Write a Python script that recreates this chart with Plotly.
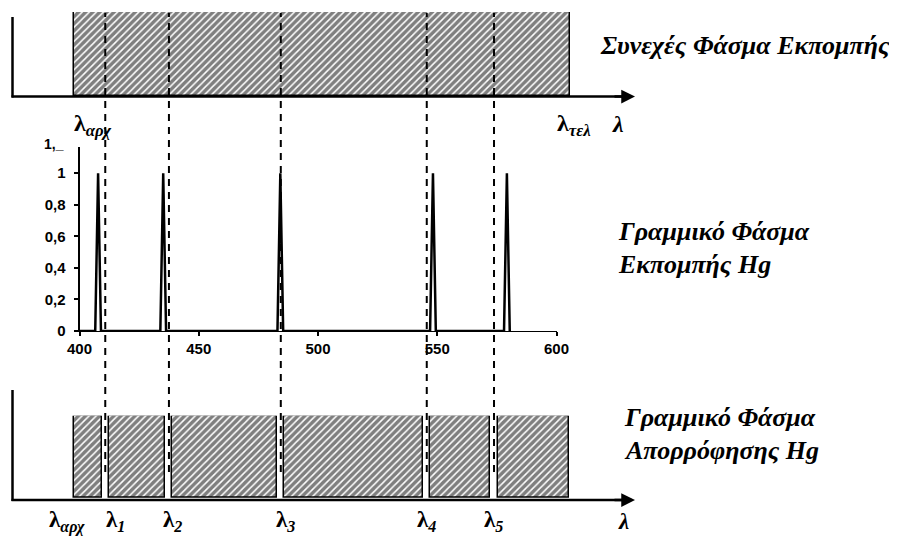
import plotly.graph_objects as go

# ---------------- data ----------------
# Line emission spectrum of Hg (middle chart)
spec_x = [400, 406.6, 407.8, 409.0, 433.9, 435.1, 436.3, 483.0, 484.2, 485.4,
          547.0, 548.2, 549.4, 578.0, 579.2, 580.4]
spec_y = [0, 0, 1, 0, 0, 1, 0, 0, 1, 0, 0, 1, 0, 0, 1, 0]

x_ticks = [400, 450, 500, 550, 600]
y_ticks = [0, 0.2, 0.4, 0.6, 0.8, 1.0]

# Continuous emission band (top schematic), nm
cont_start = 397.7
cont_end = 605.5

# Absorption lines (dashed) and the absorption-band pieces (bottom schematic), nm
abs_lines = [410.8, 437.5, 484.4, 545.6, 573.8]
band_left = [397.9, 412.4, 438.8, 485.7, 546.9, 575.3]
band_right = [409.4, 435.8, 482.8, 544.0, 572.1, 605.3]

# ---------------- layout helpers ----------------
# The page body has an 8px margin, so the figure is drawn 8px in from the corner.
OFF = 8
W, H = 897 - 2 * OFF, 544 - 2 * OFF
def px(x):
    return (x - OFF) / W
def py(y):
    return 1 - (y - OFF) / H

X400, X600 = 79.5, 556.5          # window-pixel positions of 400 and 600 nm
scale = (600 - 400) / (X600 - X400)   # nm per pixel
full_range = [400 - (X400 - OFF) * scale, 400 + (OFF + W - X400) * scale]

fig = go.Figure()

# middle chart: line spectrum
fig.add_trace(go.Scatter(x=spec_x, y=spec_y, mode="lines",
                         line=dict(color="black", width=2.5),
                         cliponaxis=False, showlegend=False, hoverinfo="skip",
                         xaxis="x", yaxis="y"))

pattern = dict(shape="/", fgcolor="black", bgcolor="white", size=5, solidity=0.7)

# top: continuous spectrum
fig.add_trace(go.Bar(x=[(cont_start + cont_end) / 2], y=[1], base=0,
                     width=[cont_end - cont_start],
                     marker=dict(color="white", pattern=pattern,
                                 line=dict(color="black", width=1.5)),
                     showlegend=False, hoverinfo="skip", xaxis="x2", yaxis="y2"))

# bottom: absorption spectrum bands
fig.add_trace(go.Bar(x=[(l + r) / 2 for l, r in zip(band_left, band_right)],
                     y=[1] * len(band_left), base=0,
                     width=[r - l for l, r in zip(band_left, band_right)],
                     marker=dict(color="white", pattern=pattern,
                                 line=dict(color="black", width=1.5)),
                     showlegend=False, hoverinfo="skip", xaxis="x3", yaxis="y3"))

SANS = "Liberation Sans"
SERIF = "Liberation Serif"
axis_font = dict(family=SANS, size=15, color="black", weight="bold")

fig.update_layout(
    width=W, height=H,
    margin=dict(l=0, r=0, t=0, b=0, pad=0, autoexpand=False),
    paper_bgcolor="white", plot_bgcolor="rgba(0,0,0,0)",
    separators=",.",
    showlegend=False,
    xaxis=dict(domain=[px(X400), px(X600)], range=[400, 600],
               tickvals=x_ticks, ticks="outside", ticklen=4, tickwidth=1.5,
               tickcolor="black", showline=True, linecolor="black", linewidth=1.2,
               showgrid=False, zeroline=False, tickfont=axis_font, anchor="y",
               automargin=False),
    yaxis=dict(domain=[py(331), py(146.7)], range=[0, 1.168],
               tickvals=y_ticks, ticks="outside", ticklen=4, tickwidth=1.5,
               tickcolor="black", showline=True, linecolor="black", linewidth=2,
               showgrid=False, zeroline=False, tickfont=axis_font, anchor="x",
               ticklabelstandoff=5, automargin=False),
    xaxis2=dict(domain=[0, 1], range=full_range, visible=False, anchor="y2"),
    yaxis2=dict(domain=[py(96), py(12)], range=[0, 1], visible=False, anchor="x2"),
    xaxis3=dict(domain=[0, 1], range=full_range, visible=False, anchor="y3"),
    yaxis3=dict(domain=[py(498), py(415.7)], range=[0, 1], visible=False, anchor="x3"),
    bargap=0,
)

shapes = []
# dashed lines at absorption wavelengths
for lam in abs_lines:
    shapes.append(dict(type="line", xref="x2", yref="paper", x0=lam, x1=lam,
                       y0=py(472), y1=py(13),
                       line=dict(color="black", width=2, dash="7px,6px")))
# L-shaped axes of the schematics
for (ytop, ybase) in [(17, 96.5), (390, 500)]:
    shapes.append(dict(type="line", xref="paper", yref="paper",
                       x0=px(12.5), x1=px(12.5), y0=py(ytop), y1=py(ybase + 1),
                       line=dict(color="black", width=2.5)))
    shapes.append(dict(type="line", xref="paper", yref="paper",
                       x0=px(11.5), x1=px(625), y0=py(ybase), y1=py(ybase),
                       line=dict(color="black", width=2.5)))
fig.update_layout(shapes=shapes)

ann = []
# arrowheads
for ybase in [96.5, 500]:
    ann.append(dict(x=px(635), y=py(ybase), xref="paper", yref="paper",
                    ax=-22, ay=0, axref="pixel", ayref="pixel", text="",
                    showarrow=True, arrowhead=2, arrowsize=1.1, arrowwidth=2.5,
                    arrowcolor="black"))

def label(text, x, y, anchor="left", size=26, fam=SERIF):
    ann.append(dict(x=px(x), y=py(y), xref="paper", yref="paper", text=text,
                    showarrow=False, xanchor=anchor, yanchor="middle",
                    font=dict(family=fam, size=size, color="black")))

label("<b><i>Συνεχές Φάσμα Εκπομπής</i></b>", 598, 45)
label("<b><i>Γραμμικό Φάσμα</i></b>", 616, 231)
label("<b><i>Εκπομπής Hg</i></b>", 616, 264)
label("<b><i>Γραμμικό Φάσμα</i></b>", 622, 417)
label("<b><i>Απορρόφησης Hg</i></b>", 622, 450)

# lambda labels (top)
label("<b>λ</b><sub><b><i>αρχ</i></b></sub>", 93, 125, anchor="center", size=24)
label("<b>λ</b><sub><b><i>τελ</i></b></sub>", 574, 125, anchor="center", size=24)
label("<b><i>λ</i></b>", 618, 124, anchor="center", size=24)
# lambda labels (bottom)
BY = 521
label("<b>λ</b><sub><b><i>αρχ</i></b></sub>", 67, BY, anchor="center", size=23)
label("<b>λ</b><sub><b><i>1</i></b></sub>", 115, BY, anchor="center", size=23)
label("<b>λ</b><sub><b><i>2</i></b></sub>", 172, BY, anchor="center", size=23)
label("<b>λ</b><sub><b><i>3</i></b></sub>", 285, BY, anchor="center", size=23)
label("<b>λ</b><sub><b><i>4</i></b></sub>", 426, BY, anchor="center", size=23)
label("<b>λ</b><sub><b><i>5</i></b></sub>", 493, BY, anchor="center", size=23)
label("<b><i>λ</i></b>", 623, BY, anchor="center", size=23)

# clipped top tick label of the middle chart
label("<b>1,_</b>", 66, 144, anchor="right", size=14, fam=SANS)

fig.update_layout(annotations=ann)

fig.write_html("out.html")
